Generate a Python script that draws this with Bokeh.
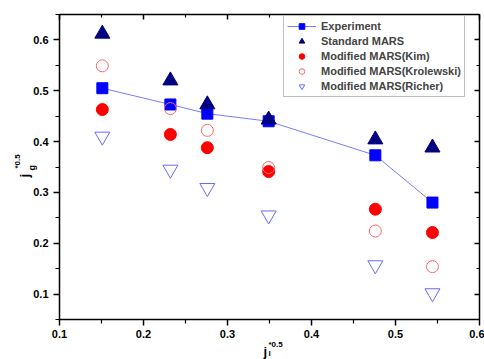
import math
from bokeh.plotting import figure
from bokeh.models import (LinearAxis, Range1d, FixedTicker, Legend, LegendItem,
                          Label, ColumnDataSource, CustomJSTickFormatter)
from bokeh.embed import file_html
from bokeh.resources import INLINE

# ---- data ----
x_vals = [0.151, 0.232, 0.276, 0.349, 0.476, 0.544]
experiment = [0.505, 0.473, 0.455, 0.440, 0.373, 0.280]
standard_mars = [0.612, 0.520, 0.473, 0.443, 0.404, 0.388]
mars_kim = [0.463, 0.414, 0.388, 0.341, 0.267, 0.221]
mars_krolewski = [0.549, 0.465, 0.422, 0.349, 0.224, 0.154]
mars_richer = [0.410, 0.345, 0.309, 0.255, 0.157, 0.102]
series_labels = ["Experiment", "Standard MARS", "Modified MARS(Kim)",
                 "Modified MARS(Krolewski)", "Modified MARS(Richer)"]
x_major = [0.1, 0.2, 0.3, 0.4, 0.5, 0.6]
x_minor = [0.15, 0.25, 0.35, 0.45, 0.55]
y_major = [0.1, 0.2, 0.3, 0.4, 0.5, 0.6]
y_minor = [0.05, 0.15, 0.25, 0.35, 0.45, 0.55, 0.65]

src = ColumnDataSource(dict(x=x_vals, exp=experiment, std=standard_mars, kim=mars_kim,
                            kro=mars_krolewski, ric=mars_richer))

FONT = "Liberation Sans"
X0, X1, Y0, Y1 = 0.1, 0.6, 0.05, 0.65
FL, FR, FT, FB = 59, 479, 14, 319   # frame edges in canvas px

p = figure(width=484, height=359, x_range=Range1d(X0, X1), y_range=Range1d(Y0, Y1),
           output_backend="svg", toolbar_location=None,
           min_border_left=FL, min_border_right=484 - FR, min_border_top=FT,
           min_border_bottom=359 - FB)
p.xgrid.visible = False
p.ygrid.visible = False
p.outline_line_color = "black"
p.background_fill_color = "white"
p.border_fill_color = "white"


def style_axis(ax, outward, show_labels):
    ax.axis_line_color = "black"
    ax.axis_line_width = 1.5
    ax.major_tick_line_color = "black"
    ax.minor_tick_line_color = "black"
    ax.major_tick_line_width = 1.5
    ax.minor_tick_line_width = 1.2
    if outward:
        ax.major_tick_out, ax.major_tick_in = 6, 0
        ax.minor_tick_out, ax.minor_tick_in = 4, 0
    else:
        ax.major_tick_out, ax.major_tick_in = 0, 5
        ax.minor_tick_out, ax.minor_tick_in = 0, 3
    ax.major_label_text_font = FONT
    ax.major_label_text_font_style = "bold"
    ax.major_label_text_font_size = "11px"
    ax.major_label_text_color = "black"
    if not show_labels:
        ax.formatter = CustomJSTickFormatter(code="return ''")
        ax.major_label_standoff = 0


p.xaxis.ticker = FixedTicker(ticks=x_major, minor_ticks=x_minor)
p.yaxis.ticker = FixedTicker(ticks=y_major, minor_ticks=y_minor)
for ax in p.xaxis:
    style_axis(ax, True, True)
    ax.major_label_standoff = 4
for ax in p.yaxis:
    style_axis(ax, True, True)
    ax.major_label_standoff = 5

top = LinearAxis(ticker=FixedTicker(ticks=x_major, minor_ticks=x_minor))
right = LinearAxis(ticker=FixedTicker(ticks=y_major, minor_ticks=y_minor))
style_axis(top, False, False)
style_axis(right, False, False)
p.add_layout(top, "above")
p.add_layout(right, "right")

# ---- glyphs ----
r_line = p.line("x", "exp", source=src, line_color="#7b7bff", line_width=1)
r_exp = p.scatter("x", "exp", source=src, marker="square", size=11,
                  fill_color="#0000ff", line_color="#0000ff")
r_std = p.scatter("x", "std", source=src, marker="triangle", size=15,
                  fill_color="#000080", line_color="#000080")
r_kim = p.scatter("x", "kim", source=src, marker="circle", size=12,
                  fill_color="#ff0000", line_color="#ff0000")
r_kro = p.scatter("x", "kro", source=src, marker="circle", size=12,
                  fill_color=None, line_color="#ff6a6a", line_width=1)
r_ric = p.scatter("x", "ric", source=src, marker="inverted_triangle", size=15,
                  fill_color=None, line_color="#6a6aff", line_width=1)

legend = Legend(items=[
    LegendItem(label=series_labels[0], renderers=[r_line, r_exp]),
    LegendItem(label=series_labels[1], renderers=[r_std]),
    LegendItem(label=series_labels[2], renderers=[r_kim]),
    LegendItem(label=series_labels[3], renderers=[r_kro]),
    LegendItem(label=series_labels[4], renderers=[r_ric]),
], location=(224, 222), padding=3, spacing=1, margin=0,
   glyph_width=29, glyph_height=14, label_height=14, label_standoff=5,
   label_text_font=FONT, label_text_font_style="bold", label_text_font_size="11px",
   border_line_color="#808080", border_line_width=1,
   background_fill_color="white", background_fill_alpha=1)
p.add_layout(legend)


# ---- axis titles (j with sub/superscripts), placed in side panels so they are not clipped ----
def cx(px):
    return X0 + (px - FL) * (X1 - X0) / (FR - FL)


def cy(py):
    return Y1 - (py - FT) * (Y1 - Y0) / (FB - FT)


def lab(text, px, py, size, side, angle=0.0):
    p.add_layout(Label(x=cx(px), y=cy(py), x_units="data", y_units="data", text=text,
                       angle=angle, text_font=FONT, text_font_style="bold",
                       text_font_size=size, text_color="black",
                       text_align="left", text_baseline="alphabetic"), side)


ROT = math.pi / 2
# x title: j_l^{*0.5}
lab("j", 263, 351, "13px", "left")
lab("*0.5", 268, 344, "8px", "left")
lab("l", 268, 353, "8px", "left")
# y title: j_g^{*0.5}
lab("j", 24, 177, "13px", "below", ROT)
lab("g", 31, 170, "9px", "below", ROT)
lab("*0.5", 17, 168, "8px", "left", ROT)

open("out.html", "w").write(file_html(p, INLINE))
